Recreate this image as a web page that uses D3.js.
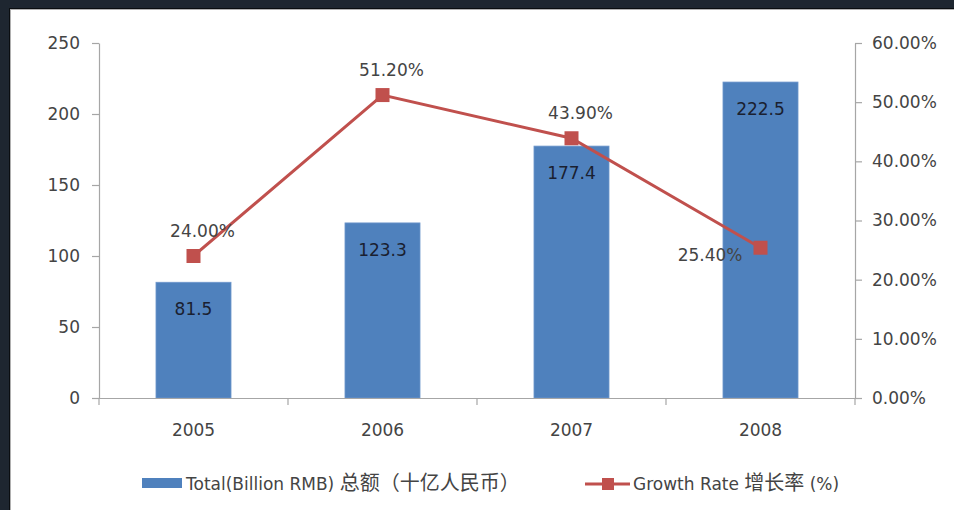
<!DOCTYPE html>
<html><head><meta charset="utf-8">
<script src="https://cdn.jsdelivr.net/npm/d3@7"></script>
<style>html,body{margin:0;padding:0;background:#1e2630;} svg{display:block}</style>
</head><body><svg id="c" width="954" height="510"></svg>
<script>
const years = ["2005", "2006", "2007", "2008"];
const totals = [81.5, 123.3, 177.4, 222.5];
const growth = [0.24, 0.512, 0.439, 0.254];
const leftTicks = [0, 50, 100, 150, 200, 250];
const rightTicks = [0, 0.1, 0.2, 0.3, 0.4, 0.5, 0.6];
const barSeriesName = ["Total(Billion RMB) ", "总额（十亿人民币）"];
const lineSeriesName = ["Growth Rate ", "增长率", " (%)"];
const growthLabelSide = ["above", "above", "above", "left"];

const svg = d3.select("#c");
const W = 954, H = 510;
const FONT = "DejaVu Sans, sans-serif";
const CJK = "Noto Sans CJK SC, sans-serif";
const BLUE = "#4f81bd", RED = "#c0504d", AXIS = "#a6a6a6", TXT = "#444444";

// frame
svg.append("rect").attr("width", W).attr("height", H).attr("fill", "#1e2630");
svg.append("rect").attr("x", 9).attr("y", 8).attr("width", W).attr("height", H).attr("fill", "#0a0d10");
svg.append("rect").attr("x", 10).attr("y", 9).attr("width", W).attr("height", H).attr("fill", "#b0b0b0");
svg.append("rect").attr("x", 11).attr("y", 10).attr("width", W).attr("height", H).attr("fill", "#ffffff");

const L = 99, R = 855, B = 398, T = 43;
const x = d3.scaleBand().domain(years).range([L, R]).padding(0);
const yL = d3.scaleLinear().domain([0, 250]).range([B, T]);
const yR = d3.scaleLinear().domain([0, 0.6]).range([B, T]);
const barW = x.bandwidth() * 0.397;

// bars
svg.append("g").selectAll("rect").data(years).join("rect")
  .attr("x", (d) => x(d) + (x.bandwidth() - barW) / 2)
  .attr("y", (d, i) => yL(totals[i]))
  .attr("width", barW)
  .attr("height", (d, i) => B - yL(totals[i]))
  .attr("fill", BLUE)
  .attr("stroke", "#6f97cc").attr("stroke-width", 0.8);

// axes
function styleAxis(g) {
  g.selectAll("path,line").attr("stroke", AXIS).attr("stroke-width", 1.2);
  g.selectAll("text").attr("fill", TXT).style("font-family", FONT).style("font-size", "17px");
}
const gl = svg.append("g").attr("transform", `translate(${L},0)`)
  .call(d3.axisLeft(yL).tickValues(leftTicks).tickSize(7).tickSizeOuter(0).tickPadding(12).tickFormat(d3.format("d")));
styleAxis(gl);
const gr = svg.append("g").attr("transform", `translate(${R},0)`)
  .call(d3.axisRight(yR).tickValues(rightTicks).tickSize(7).tickSizeOuter(0).tickPadding(10).tickFormat(d3.format(".2%")));
styleAxis(gr);

// x axis
const gx = svg.append("g").attr("transform", `translate(0,${B})`)
  .call(d3.axisBottom(x).tickSize(0).tickPadding(26));
styleAxis(gx);
gx.select(".domain").attr("d", `M${L},0.5H${R}`);
const bounds = years.map((d) => x(d)).concat([x.range()[1]]);
gx.selectAll(".bnd").data(bounds).join("line").attr("class", "bnd")
  .attr("x1", (d) => d).attr("x2", (d) => d).attr("y1", 0).attr("y2", 7)
  .attr("stroke", AXIS).attr("stroke-width", 1.2);

// bar labels
svg.append("g").selectAll("text").data(years).join("text")
  .attr("x", (d) => x(d) + x.bandwidth() / 2)
  .attr("y", (d, i) => yL(totals[i]) + 33)
  .attr("text-anchor", "middle")
  .attr("fill", "#1a2030")
  .style("font-family", FONT).style("font-size", "17px")
  .text((d, i) => totals[i].toFixed(1));

// line
const cx = (d) => x(d) + x.bandwidth() / 2;
const line = d3.line().x((d) => cx(d)).y((d, i) => yR(growth[i]));
svg.append("path").datum(years).attr("d", line)
  .attr("fill", "none").attr("stroke", RED).attr("stroke-width", 3);
svg.append("g").selectAll("rect").data(years).join("rect")
  .attr("x", (d) => cx(d) - 7).attr("y", (d, i) => yR(growth[i]) - 7)
  .attr("width", 14).attr("height", 14).attr("fill", RED);

// growth labels
svg.append("g").selectAll("text").data(years).join("text")
  .attr("x", (d, i) => growthLabelSide[i] === "left" ? cx(d) - 18 : cx(d) + 9)
  .attr("y", (d, i) => growthLabelSide[i] === "left" ? yR(growth[i]) + 13 : yR(growth[i]) - 19)
  .attr("text-anchor", (d, i) => growthLabelSide[i] === "left" ? "end" : "middle")
  .attr("fill", TXT)
  .style("font-family", FONT).style("font-size", "17px")
  .text((d, i) => d3.format(".2%")(growth[i]));

// legend
const lg = svg.append("g");
lg.append("rect").attr("x", 142).attr("y", 478).attr("width", 40).attr("height", 10).attr("fill", BLUE);
const t1 = lg.append("text").attr("x", 186).attr("y", 490).attr("fill", TXT).style("font-size", "17px");
t1.append("tspan").style("font-family", FONT).text(barSeriesName[0]);
t1.append("tspan").style("font-family", CJK).style("font-size", "20px").text(barSeriesName[1]);

lg.append("line").attr("x1", 585).attr("x2", 630).attr("y1", 484).attr("y2", 484).attr("stroke", RED).attr("stroke-width", 3);
lg.append("rect").attr("x", 602).attr("y", 478).attr("width", 12).attr("height", 12).attr("fill", RED);
const t2 = lg.append("text").attr("x", 633).attr("y", 490).attr("fill", TXT).style("font-size", "17px");
t2.append("tspan").style("font-family", FONT).text(lineSeriesName[0]);
t2.append("tspan").style("font-family", CJK).style("font-size", "20px").text(lineSeriesName[1]);
t2.append("tspan").style("font-family", FONT).text(lineSeriesName[2]);
</script></body></html>
